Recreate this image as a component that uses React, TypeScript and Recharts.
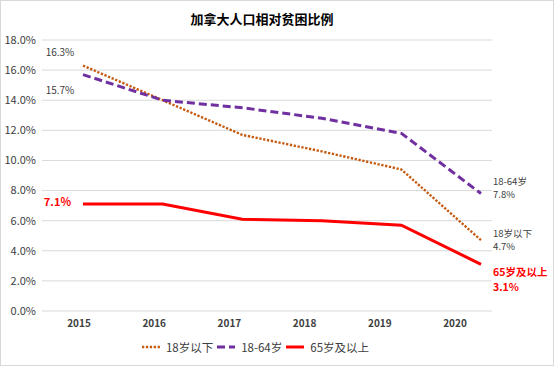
import { LineChart, Line, XAxis, YAxis, CartesianGrid, Legend, LabelList } from 'recharts';

const years = ['2015', '2016', '2017', '2018', '2019', '2020'];
const under18 = [16.3, 14.0, 11.7, 10.6, 9.4, 4.7];
const age18to64 = [15.7, 14.0, 13.5, 12.8, 11.8, 7.8];
const over65 = [7.1, 7.1, 6.1, 6.0, 5.7, 3.1];
const yTicks = [0, 2, 4, 6, 8, 10, 12, 14, 16, 18];

const data = years.map((year, i) => ({
  year,
  under18: under18[i],
  age18to64: age18to64[i],
  over65: over65[i],
}));

const series = [
  { key: 'under18', name: '18岁以下', color: '#C55A11', dash: '2.3 1.6', width: 2.4 },
  { key: 'age18to64', name: '18-64岁', color: '#7030A0', dash: '8 4', width: 3 },
  { key: 'over65', name: '65岁及以上', color: '#FF0000', dash: undefined, width: 3 },
];

const font = '"Noto Sans CJK SC", "Noto Sans", sans-serif';

const pct = (v: number) => `${v.toFixed(1)}%`;

// two stacked lines to the right of the last point
function sideLabel(x: number, y: number, top: string, bottom: string, gap: number, size: number, bold: boolean, color: string) {
  return (
    <g>
      <text x={x + 12} y={y} dominantBaseline="central" fontSize={size} fontWeight={bold ? 'bold' : 'normal'} fill={color} fontFamily={font}>
        {top}
      </text>
      <text x={x + 12} y={y + gap} dominantBaseline="central" fontSize={size} fontWeight={bold ? 'bold' : 'normal'} fill={color} fontFamily={font}>
        {bottom}
      </text>
    </g>
  );
}

function makeLabel(key: string) {
  return (props: any) => {
    const { x, y, value, index } = props;
    const last = years.length - 1;
    if (index !== 0 && index !== last) return null;
    const txt = pct(value);
    if (key === 'under18') {
      if (index === 0)
        return (
          <text x={x - 23} y={y - 14} textAnchor="middle" dominantBaseline="central" fontSize={10} fill="#404040" fontFamily={font}>
            {txt}
          </text>
        );
      return sideLabel(x, y - 7, '18岁以下', txt, 13, 9.5, false, '#404040');
    }
    if (key === 'age18to64') {
      if (index === 0)
        return (
          <text x={x - 23} y={y + 15} textAnchor="middle" dominantBaseline="central" fontSize={10} fill="#404040" fontFamily={font}>
            {txt}
          </text>
        );
      return sideLabel(x, y - 13, '18-64岁', txt, 13, 9.5, false, '#404040');
    }
    if (index === 0)
      return (
        <text x={x - 12} y={y - 3} textAnchor="end" dominantBaseline="central" fontSize={11} fontWeight="bold" fill="#FF0000" fontFamily={font}>
          {txt}
        </text>
      );
    return sideLabel(x, y + 7, '65岁及以上', txt, 15, 10.5, true, '#FF0000');
  };
}

function LegendContent() {
  return (
    <div style={{ display: 'flex', justifyContent: 'center', alignItems: 'center', fontFamily: font, fontSize: 11.5, color: '#404040', height: 20, paddingLeft: 20 }}>
      {series.map((s) => (
        <div key={s.key} style={{ display: 'flex', alignItems: 'center', marginRight: 3 }}>
          <svg width={20} height={6} style={{ marginRight: 5 }}>
            <line x1={1} y1={3} x2={19} y2={3} stroke={s.color} strokeWidth={s.width} strokeDasharray={s.dash} />
          </svg>
          <span>{s.name}</span>
        </div>
      ))}
    </div>
  );
}

export default function App() {
  return (
    <div style={{ position: 'relative', width: 554, height: 366, boxSizing: 'border-box', border: '1px solid #d9d9d9', background: '#fff' }}>
      <style>{'body{margin:0}'}</style>
      <div style={{ position: 'absolute', top: 8, left: 0, width: 522, textAlign: 'center', fontFamily: font, fontSize: 13, fontWeight: 'bold', color: '#000' }}>
        加拿大人口相对贫困比例
      </div>
      <LineChart width={552} height={364} data={data} margin={{ top: 39, right: 61, left: 0, bottom: 8 }}>
        <CartesianGrid vertical={false} stroke="#d9d9d9" xAxisId="lab" />
        <XAxis
          xAxisId="lab"
          dataKey="year"
          axisLine={false}
          tickLine={false}
          tickSize={0}
          tickMargin={9}
          height={26}
          padding={{ left: 37, right: 37 }}
          tick={{ fontSize: 10, fontWeight: 'bold', fill: '#404040', fontFamily: font }}
        />
        <XAxis xAxisId="pts" dataKey="year" hide padding={{ left: 41, right: 11 }} />
        <YAxis
          domain={[0, 18]}
          ticks={yTicks}
          width={41}
          axisLine={false}
          tickLine={false}
          tickSize={0}
          tickMargin={6}
          tickFormatter={pct}
          tick={{ fontSize: 11, fill: '#404040', fontFamily: font }}
        />
        <Legend verticalAlign="bottom" height={20} content={<LegendContent />} />
        {series.map((s) => (
          <Line
            key={s.key}
            xAxisId="pts"
            type="linear"
            dataKey={s.key}
            name={s.name}
            stroke={s.color}
            strokeWidth={s.width}
            strokeDasharray={s.dash}
            dot={false}
            activeDot={false}
            isAnimationActive={false}
          >
            <LabelList dataKey={s.key} content={makeLabel(s.key)} />
          </Line>
        ))}
      </LineChart>
    </div>
  );
}
